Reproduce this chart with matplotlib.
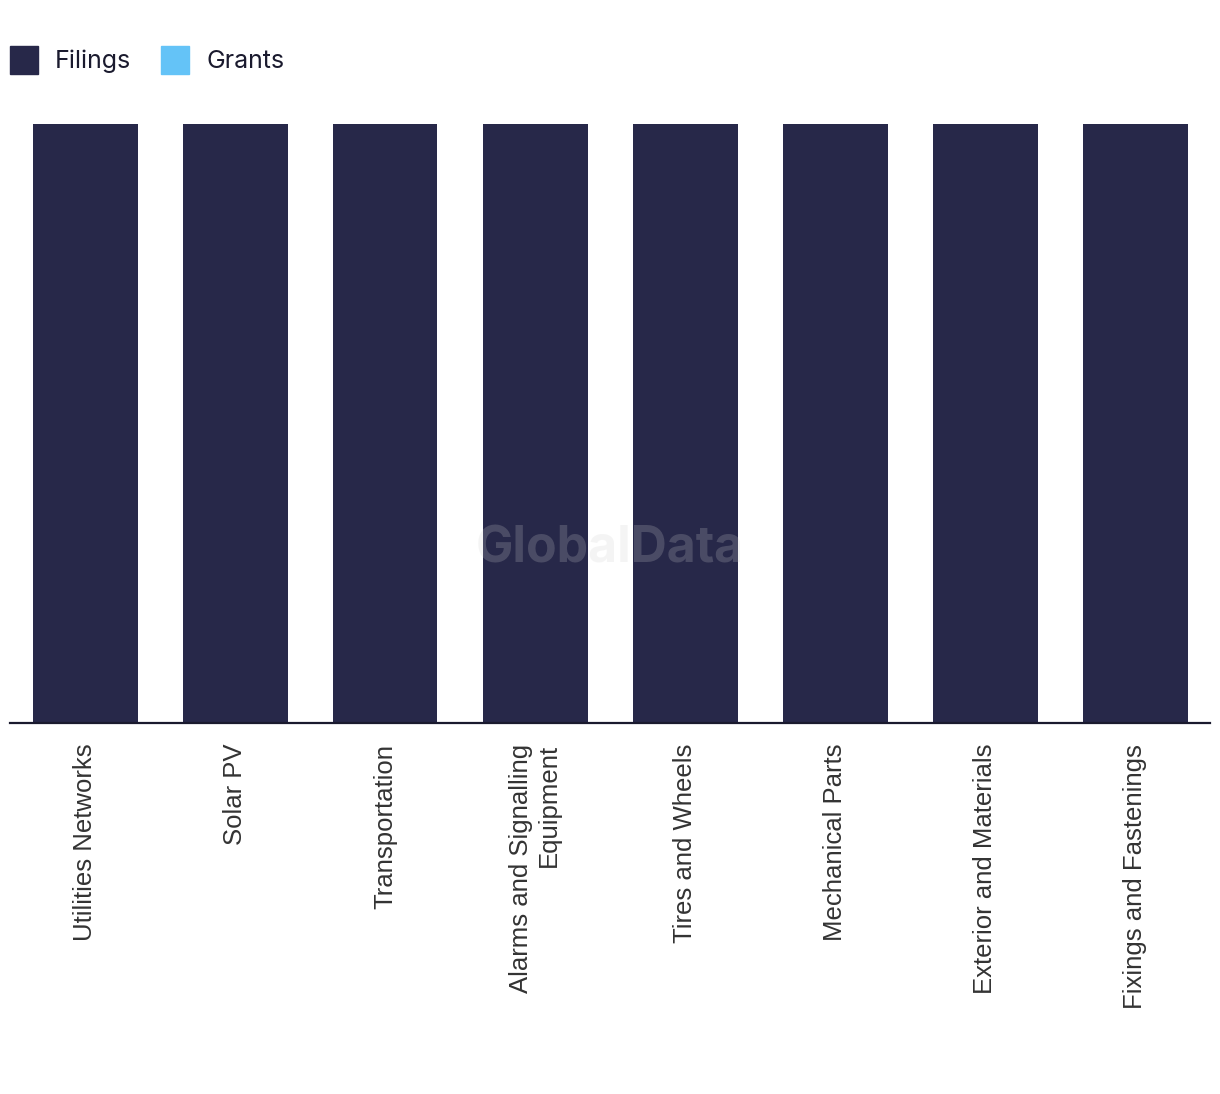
import numpy as np
import matplotlib.pyplot as plt
from matplotlib.patches import Patch

categories = [
    "Utilities Networks",
    "Solar PV",
    "Transportation",
    "Alarms and Signalling\nEquipment",
    "Tires and Wheels",
    "Mechanical Parts",
    "Exterior and Materials",
    "Fixings and Fastenings",
]
filings = [1, 1, 1, 1, 1, 1, 1, 1]
grants = [0, 0, 0, 0, 0, 0, 0, 0]

c_filings = "#272849"
c_grants = "#64c3f7"

fig = plt.figure(figsize=(12.2, 10.94), dpi=100)
ax = fig.add_axes([10 / 1220, 1 - 723 / 1094, 1200 / 1220, (723 - 124) / 1094])

x = np.arange(len(categories))
ax.bar(x, filings, width=0.7, color=c_filings)
ax.bar(x, grants, width=0.7, bottom=filings, color=c_grants)

ax.set_xlim(-0.5, len(categories) - 0.5)
ax.set_ylim(0, max(filings))
ax.set_yticks([])
for s in ["top", "right", "left"]:
    ax.spines[s].set_visible(False)
ax.spines["bottom"].set_color("#1a1a2e")
ax.spines["bottom"].set_linewidth(1.6)

ax.set_xticks(x)
ax.set_xticklabels(categories, rotation=90, family="Liberation Sans", fontsize=18.5,
                   color="#333333", va="top", ha="center", multialignment="right")
ax.tick_params(axis="x", length=0, pad=15)

handles = [Patch(color=c_filings, label="Filings"), Patch(color=c_grants, label="Grants")]
fig.legend(handles=handles, loc="upper left", bbox_to_anchor=(10 / 1220, 1 - 46 / 1094), ncol=2,
           frameon=False, borderaxespad=0, borderpad=0, handlelength=1.12, handleheight=1.346,
           handletextpad=0.68, columnspacing=1.2, prop={"family": "Inter", "size": 18},
           labelcolor="#1a1a2e")

fig.text(0.5, 1 - 549 / 1094, "GlobalData", ha="center", va="center", fontsize=36,
         fontweight="bold", family="Inter", color="#cfcfcf", alpha=0.21)

fig.savefig("out.png", dpi=100)
plt.close(fig)
